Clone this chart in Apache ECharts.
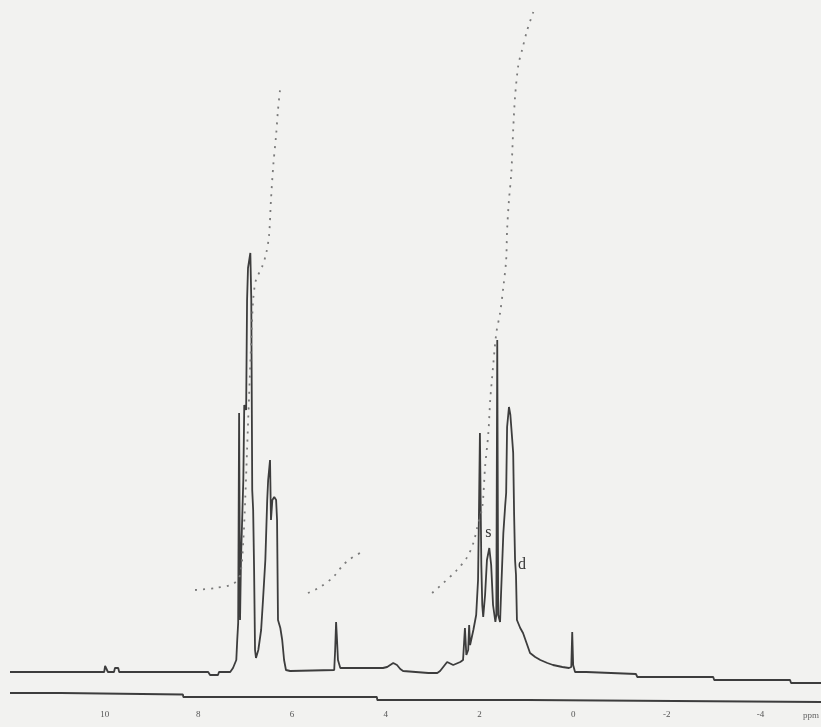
<!DOCTYPE html>
<html>
<head>
<meta charset="utf-8">
<script src="https://cdn.jsdelivr.net/npm/echarts@6/dist/echarts.min.js"></script>
<style>
html,body{margin:0;padding:0;background:#f2f2f0;}
#c{width:821px;height:727px;}
</style>
</head>
<body>
<div id="c"></div>
<script>
// Chemical shift (ppm) and intensity of the 1H NMR trace
var specPpm = [12.02,10.01,9.99,9.95,9.93,9.80,9.78,9.71,9.69,7.79,7.75,7.58,7.56,7.32,7.26,7.19,7.17,7.15,7.13,7.11,7.09,7.04,7.02,6.98,6.96,6.94,6.92,6.89,6.87,6.85,6.83,6.81,6.79,6.77,6.72,6.66,6.62,6.57,6.53,6.51,6.47,6.45,6.42,6.38,6.34,6.32,6.30,6.25,6.21,6.17,6.13,6.04,
5.10,5.08,5.06,5.04,5.02,4.97,4.93,4.06,3.97,3.84,3.76,3.69,3.63,3.09,2.90,2.84,2.69,2.56,2.41,2.35,2.31,2.28,2.24,2.22,2.20,2.13,2.07,2.03,2.01,1.99,1.96,1.94,1.92,1.88,1.84,1.79,1.75,1.71,1.66,1.64,1.62,1.60,1.56,1.54,1.49,1.45,1.43,1.41,1.37,1.34,1.30,1.28,1.26,1.24,1.22,1.20,1.13,1.07,0.98,0.92,0.81,0.70,0.55,0.43,0.23,0.09,0.04,0.02,0.00,-0.04,-0.28,-0.30,-1.34,-1.37,-2.99,-3.01,-4.63,-4.65,-5.29];
var specInt = [33,33,39,39,33,33,37,37,33,33,30,30,33,33,37,45,65,82,292,85,145,225,300,295,405,437,435,452,405,215,195,135,55,47,55,75,105,145,205,225,245,185,205,208,205,185,85,77,65,45,35,34,
35,55,83,65,45,37,35,37,38,42,40,36,34,32,32,34,43,40,43,45,77,50,55,80,60,75,90,125,195,272,140,100,88,110,145,157,140,100,83,90,365,90,83,110,172,200,212,278,298,290,265,252,190,145,130,85,77,72,60,52,48,45,42,40,38,37,38,73,40,33,33,31,31,28,28,25,25,22,22];

// Lower reference trace
var basePpm = [12.02,10.93,10.92,8.33,8.32,4.19,4.18,0.97,0.96,-5.29];
var baseInt = [12,12,10.5,10.5,8,8,5,5,3,3];

// Integral curves
var int1Ppm = [8.07,7.64,7.26,7.11,7.04,7.00,6.96,6.92,6.87,6.83,6.77,6.64,6.55,6.49,6.45,6.40,6.34,6.30,6.25];
var int1Val = [115,117,121,130,165,205,255,305,365,405,425,438,452,470,505,540,570,595,618];
var int2Ppm = [5.66,5.40,5.12,4.91,4.76,4.55];
var int2Val = [112,118,128,140,146,152];
var int3Ppm = [3.01,2.77,2.48,2.26,2.13,2.05,1.94,1.88,1.81,1.77,1.71,1.64,1.56,1.49,1.43,1.41,1.37,1.32,1.28,1.24,1.17,1.09,0.98,0.85];
var int3Val = [112,122,135,148,162,177,198,238,272,305,338,372,392,418,445,475,505,532,575,608,640,655,675,693];

// Tick labels
var tickValues = [10,8,6,4,2,0,-2,-4];

// Peak annotations
var noteText = ['s','d'];
var notePpm = [1.81,1.09];
var noteVal = [172,140];

function pairs(a,b){return a.map(function(v,i){return [v,b[i]];});}

var chart = echarts.init(document.getElementById('c'));
var lineCol = '#3d3d3d';
var dotCol = '#7a7a7a';
chart.setOption({
  animation:false,
  backgroundColor:'#f2f2f0',
  grid:{left:10,right:0,top:0,bottom:22},
  xAxis:{type:'value',inverse:true,min:-5.29,max:12.02,
    axisLine:{show:false},axisTick:{show:false},splitLine:{show:false},
    axisLabel:{customValues:tickValues,margin:5,fontSize:9,color:'#555',fontFamily:'Liberation Serif'}},
  yAxis:{type:'value',min:0,max:705,show:false},
  graphic:[{type:'text',right:2,bottom:7,style:{text:'ppm',fontSize:9,fill:'#666',fontFamily:'Liberation Serif'}}],
  series:[
    {type:'line',data:pairs(specPpm,specInt),showSymbol:false,lineStyle:{color:lineCol,width:1.8},
     markPoint:{symbol:'circle',symbolSize:0,
       label:{show:true,formatter:'{b}',fontSize:16,color:'#333',fontFamily:'Liberation Serif',offset:[0,0]},
       data:noteText.map(function(t,i){return {name:t,coord:[notePpm[i],noteVal[i]]};})}},
    {type:'line',data:pairs(basePpm,baseInt),showSymbol:false,lineStyle:{color:lineCol,width:1.8}},
    {type:'line',data:pairs(int1Ppm,int1Val),showSymbol:false,smooth:0.3,lineStyle:{color:dotCol,width:1.8,type:[2,6]}},
    {type:'line',data:pairs(int2Ppm,int2Val),showSymbol:false,smooth:0.3,lineStyle:{color:dotCol,width:1.8,type:[2,6]}},
    {type:'line',data:pairs(int3Ppm,int3Val),showSymbol:false,smooth:0.3,lineStyle:{color:dotCol,width:1.8,type:[2,6]}}
  ]
});
</script>
</body>
</html>
